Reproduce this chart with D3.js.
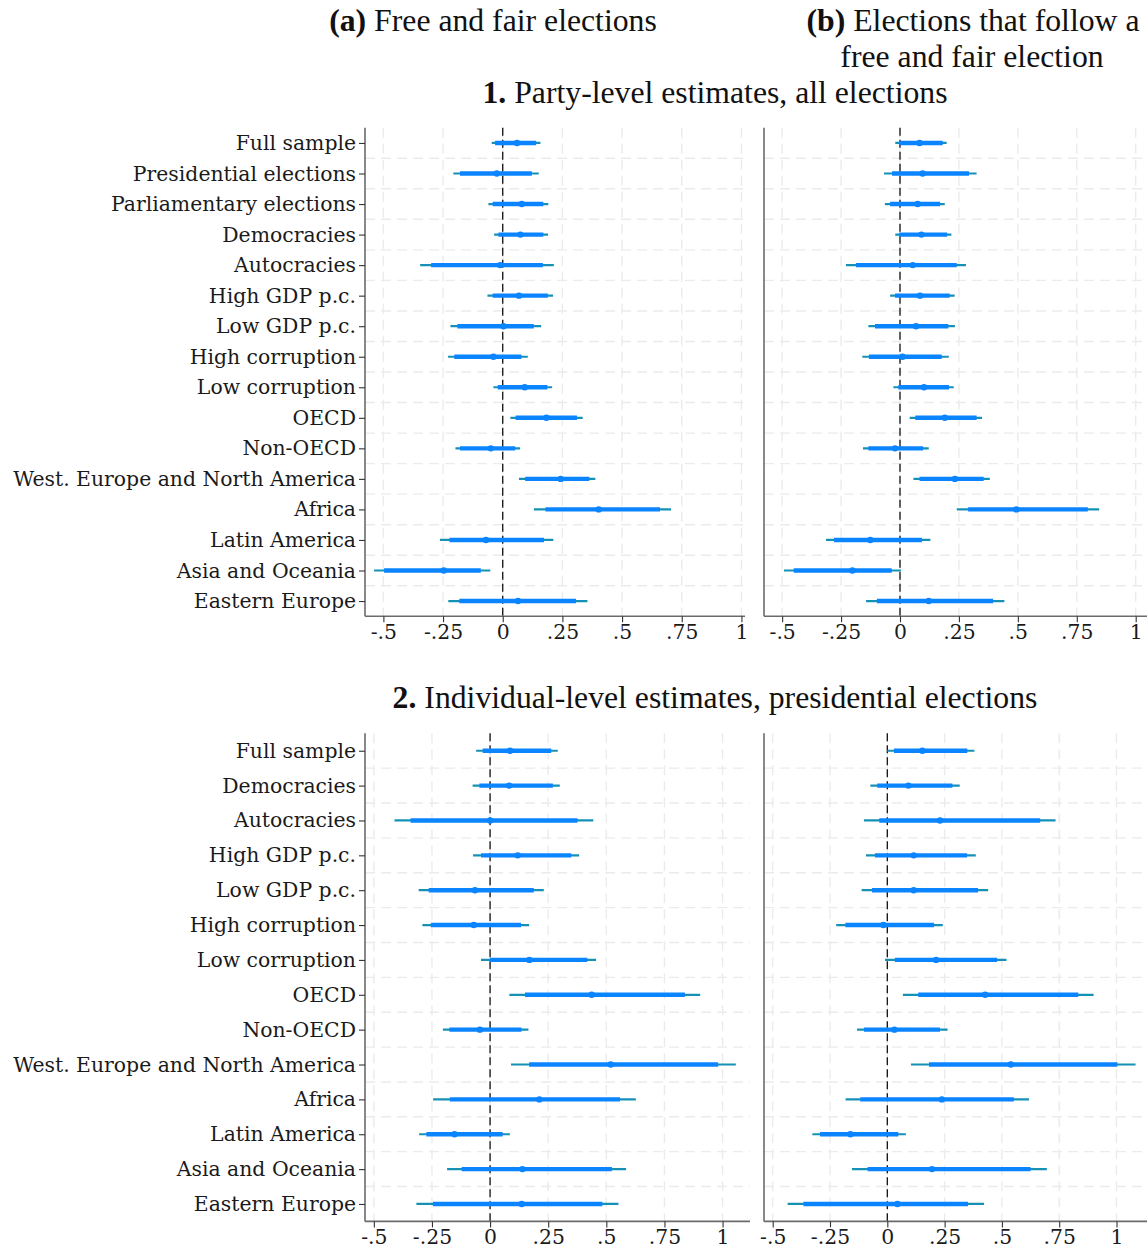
<!DOCTYPE html>
<html>
<head>
<meta charset="utf-8">
<script src="https://cdn.jsdelivr.net/npm/d3@7"></script>
<style>
  html, body { margin: 0; padding: 0; background: #ffffff; }
  svg { display: block; }
</style>
</head>
<body>
<svg id="chart" width="1147" height="1253"></svg>
<script>
// ---- Categories ----
const catsParty = ["Full sample", "Presidential elections", "Parliamentary elections", "Democracies",
  "Autocracies", "High GDP p.c.", "Low GDP p.c.", "High corruption", "Low corruption", "OECD",
  "Non-OECD", "West. Europe and North America", "Africa", "Latin America", "Asia and Oceania",
  "Eastern Europe"];
const catsIndiv = ["Full sample", "Democracies", "Autocracies", "High GDP p.c.", "Low GDP p.c.",
  "High corruption", "Low corruption", "OECD", "Non-OECD", "West. Europe and North America",
  "Africa", "Latin America", "Asia and Oceania", "Eastern Europe"];

// ---- 1(a) Party-level, free and fair elections ----
const partyFairEst  = [0.060, -0.025, 0.080, 0.074, -0.011, 0.068, 0.003, -0.039, 0.092, 0.183, -0.050, 0.243, 0.402, -0.070, -0.247, 0.064];
const partyFairLo95 = [-0.046, -0.207, -0.060, -0.036, -0.346, -0.064, -0.219, -0.229, -0.039, 0.032, -0.198, 0.068, 0.131, -0.263, -0.539, -0.228];
const partyFairHi95 = [0.158, 0.151, 0.191, 0.190, 0.214, 0.211, 0.161, 0.105, 0.207, 0.335, 0.073, 0.388, 0.705, 0.212, -0.052, 0.355];
const partyFairLo90 = [-0.032, -0.179, -0.042, -0.018, -0.300, -0.042, -0.190, -0.203, -0.021, 0.054, -0.179, 0.094, 0.179, -0.223, -0.497, -0.182];
const partyFairHi90 = [0.140, 0.122, 0.170, 0.170, 0.168, 0.189, 0.130, 0.078, 0.187, 0.311, 0.052, 0.363, 0.659, 0.173, -0.092, 0.307];

// ---- 1(b) Party-level, elections following a free and fair election ----
const partyNextEst  = [0.083, 0.096, 0.075, 0.091, 0.054, 0.085, 0.068, 0.011, 0.102, 0.190, -0.021, 0.233, 0.494, -0.126, -0.202, 0.122];
const partyNextLo95 = [-0.020, -0.068, -0.064, -0.020, -0.229, -0.042, -0.134, -0.160, -0.028, 0.041, -0.157, 0.057, 0.241, -0.314, -0.492, -0.144];
const partyNextHi95 = [0.198, 0.325, 0.190, 0.218, 0.280, 0.232, 0.233, 0.207, 0.228, 0.348, 0.122, 0.381, 0.845, 0.129, 0.004, 0.443];
const partyNextLo90 = [-0.003, -0.034, -0.042, -0.003, -0.187, -0.021, -0.106, -0.132, -0.007, 0.065, -0.134, 0.083, 0.289, -0.280, -0.451, -0.098];
const partyNextHi90 = [0.181, 0.293, 0.170, 0.200, 0.241, 0.211, 0.205, 0.177, 0.208, 0.325, 0.098, 0.355, 0.797, 0.093, -0.035, 0.395];

// ---- 2(a) Individual-level, free and fair elections ----
const indivFairEst  = [0.086, 0.082, 0.000, 0.119, -0.065, -0.070, 0.169, 0.437, -0.044, 0.519, 0.212, -0.153, 0.139, 0.136];
const indivFairLo95 = [-0.060, -0.075, -0.411, -0.073, -0.307, -0.291, -0.039, 0.083, -0.203, 0.090, -0.245, -0.305, -0.185, -0.317];
const indivFairHi95 = [0.291, 0.300, 0.444, 0.383, 0.231, 0.168, 0.456, 0.904, 0.165, 1.057, 0.627, 0.085, 0.585, 0.552];
const indivFairLo90 = [-0.032, -0.046, -0.342, -0.039, -0.264, -0.255, 0.000, 0.150, -0.175, 0.168, -0.173, -0.274, -0.122, -0.246];
const indivFairHi90 = [0.263, 0.270, 0.376, 0.349, 0.188, 0.133, 0.418, 0.838, 0.135, 0.981, 0.559, 0.054, 0.524, 0.483];

// ---- 2(b) Individual-level, elections following a free and fair election ----
const indivNextEst  = [0.153, 0.092, 0.230, 0.115, 0.115, -0.017, 0.213, 0.427, 0.031, 0.539, 0.238, -0.161, 0.195, 0.044];
const indivNextLo95 = [0.000, -0.074, -0.102, -0.093, -0.112, -0.223, -0.010, 0.068, -0.132, 0.103, -0.182, -0.327, -0.154, -0.435];
const indivNextHi95 = [0.380, 0.316, 0.734, 0.386, 0.440, 0.242, 0.520, 0.900, 0.263, 1.083, 0.618, 0.081, 0.696, 0.422];
const indivNextLo90 = [0.029, -0.044, -0.035, -0.054, -0.067, -0.183, 0.033, 0.135, -0.102, 0.182, -0.118, -0.294, -0.086, -0.366];
const indivNextHi90 = [0.349, 0.284, 0.667, 0.348, 0.396, 0.204, 0.479, 0.833, 0.230, 1.004, 0.552, 0.048, 0.625, 0.352];

// ---- Axis ticks ----
const tickValues = [-0.5, -0.25, 0, 0.25, 0.5, 0.75, 1];
const tickLabels = ["-.5", "-.25", "0", ".25", ".5", ".75", "1"];

// ---- Styling ----
const COL_THICK = "#0a84ff";
const COL_THIN = "#1591b6";
const COL_AXIS = "#6b6b6b";
const COL_GRID = "#ebebeb";
const LABEL_FONT = "'DejaVu Serif', serif";
const TITLE_FONT = "'Liberation Serif', 'Times New Roman', serif";

const svg = d3.select("#chart");

// Measure a string so font sizes can be fit to the available width.
function measure(family, size, parts) {
  const t = svg.append("text").attr("font-family", family).attr("font-size", size);
  parts.forEach(p => t.append("tspan").attr("font-weight", p.bold ? "bold" : "normal").text(p.text));
  const w = t.node().getComputedTextLength();
  t.remove();
  return w;
}

const labelSize = 20 * 343 / measure(LABEL_FONT, 20, [{ text: "West. Europe and North America" }]);
const tickSize = labelSize;
const titleSize = 26 * 645 / measure(TITLE_FONT, 26, [{ text: "2.", bold: true }, { text: " Individual-level estimates, presidential elections" }]);

function makeRows(cats, est, lo95, hi95, lo90, hi90) {
  return cats.map((c, i) => ({ cat: c, est: est[i], lo95: lo95[i], hi95: hi95[i], lo90: lo90[i], hi90: hi90[i] }));
}

function drawPanel(cfg) {
  const g = svg.append("g");
  const x = d3.scaleLinear().domain(cfg.domain).range([cfg.x0, cfg.x1]);
  const y = d3.scalePoint().domain(cfg.rows.map(d => d.cat)).range([cfg.y0, cfg.y1]).padding(0.5);
  const step = y.step();

  // vertical grid at ticks
  g.append("g").selectAll("line").data(tickValues).join("line")
    .attr("x1", d => x(d)).attr("x2", d => x(d))
    .attr("y1", cfg.y0).attr("y2", cfg.y1)
    .attr("stroke", COL_GRID).attr("stroke-width", 1.4).attr("stroke-dasharray", "10,6");

  // horizontal grid between rows
  const bounds = cfg.rows.slice(0, -1).map(d => y(d.cat) + step / 2);
  g.append("g").selectAll("line").data(bounds).join("line")
    .attr("x1", cfg.x0).attr("x2", cfg.x1)
    .attr("y1", d => d).attr("y2", d => d)
    .attr("stroke", COL_GRID).attr("stroke-width", 1.4).attr("stroke-dasharray", "10,6");

  // reference line at zero
  g.append("line")
    .attr("x1", x(0)).attr("x2", x(0)).attr("y1", cfg.y0).attr("y2", cfg.y1)
    .attr("stroke", "#111").attr("stroke-width", 1.3).attr("stroke-dasharray", "8,4");

  // 95% intervals
  g.append("g").selectAll("line").data(cfg.rows).join("line")
    .attr("x1", d => x(d.lo95)).attr("x2", d => x(d.hi95))
    .attr("y1", d => y(d.cat)).attr("y2", d => y(d.cat))
    .attr("stroke", COL_THIN).attr("stroke-width", 2.2);

  // 90% intervals
  g.append("g").selectAll("line").data(cfg.rows).join("line")
    .attr("x1", d => x(d.lo90)).attr("x2", d => x(d.hi90))
    .attr("y1", d => y(d.cat)).attr("y2", d => y(d.cat))
    .attr("stroke", COL_THICK).attr("stroke-width", 4.4);

  // point estimates
  g.append("g").selectAll("circle").data(cfg.rows).join("circle")
    .attr("cx", d => x(d.est)).attr("cy", d => y(d.cat)).attr("r", 3.2)
    .attr("fill", COL_THICK);

  // x axis
  const xAxis = d3.axisBottom(x).tickValues(tickValues)
    .tickFormat((d, i) => tickLabels[i]).tickSize(6).tickSizeOuter(0).tickPadding(2);
  const gx = g.append("g").attr("transform", `translate(0,${cfg.y1})`).call(xAxis);
  gx.select(".domain").attr("stroke", COL_AXIS).attr("stroke-width", 1.6)
    .attr("d", `M${cfg.x0},0H${cfg.x1}`);
  gx.selectAll(".tick line").attr("stroke", "#333").attr("stroke-width", 1.1);
  gx.selectAll(".tick text").attr("font-family", LABEL_FONT).attr("font-size", tickSize)
    .attr("fill", "#1a1a1a");

  // y axis
  const gy = g.append("g").attr("transform", `translate(${cfg.x0},0)`);
  gy.append("line").attr("x1", 0).attr("x2", 0).attr("y1", cfg.y0).attr("y2", cfg.y1)
    .attr("stroke", COL_AXIS).attr("stroke-width", 1.6);
  if (cfg.labels) {
    const yAxis = d3.axisLeft(y).tickSize(6).tickSizeOuter(0).tickPadding(3);
    gy.call(yAxis);
    gy.select(".domain").remove();
    gy.selectAll(".tick line").attr("stroke", "#333").attr("stroke-width", 1.1);
    gy.selectAll(".tick text").attr("font-family", LABEL_FONT).attr("font-size", labelSize)
      .attr("fill", "#1a1a1a");
  }
}

const topY0 = 127.7, topY1 = 616.3;
const botY0 = 733.3, botY1 = 1221.4;

drawPanel({ rows: makeRows(catsParty, partyFairEst, partyFairLo95, partyFairHi95, partyFairLo90, partyFairHi90),
  domain: [-0.577, 1.015], x0: 365, x1: 745, y0: topY0, y1: topY1, labels: true });
drawPanel({ rows: makeRows(catsParty, partyNextEst, partyNextLo95, partyNextHi95, partyNextLo90, partyNextHi90),
  domain: [-0.577, 1.048], x0: 764, x1: 1147, y0: topY0, y1: topY1, labels: false });
drawPanel({ rows: makeRows(catsIndiv, indivFairEst, indivFairLo95, indivFairHi95, indivFairLo90, indivFairHi90),
  domain: [-0.538, 1.118], x0: 365, x1: 750, y0: botY0, y1: botY1, labels: true });
drawPanel({ rows: makeRows(catsIndiv, indivNextEst, indivNextLo95, indivNextHi95, indivNextLo90, indivNextHi90),
  domain: [-0.538, 1.133], x0: 764, x1: 1147, y0: botY0, y1: botY1, labels: false });

// ---- Titles ----
function title(x, yBase, parts) {
  const t = svg.append("text").attr("x", x).attr("y", yBase).attr("text-anchor", "middle")
    .attr("font-family", TITLE_FONT).attr("font-size", titleSize).attr("fill", "#111");
  parts.forEach(p => t.append("tspan").attr("font-weight", p.bold ? "bold" : "normal").text(p.text));
}
title(493, 31, [{ text: "(a)", bold: true }, { text: " Free and fair elections" }]);
title(973, 31, [{ text: "(b)", bold: true }, { text: " Elections that follow a" }]);
title(972, 67, [{ text: "free and fair election" }]);
title(715, 103, [{ text: "1.", bold: true }, { text: " Party-level estimates, all elections" }]);
title(715, 708, [{ text: "2.", bold: true }, { text: " Individual-level estimates, presidential elections" }]);
</script>
</body>
</html>
